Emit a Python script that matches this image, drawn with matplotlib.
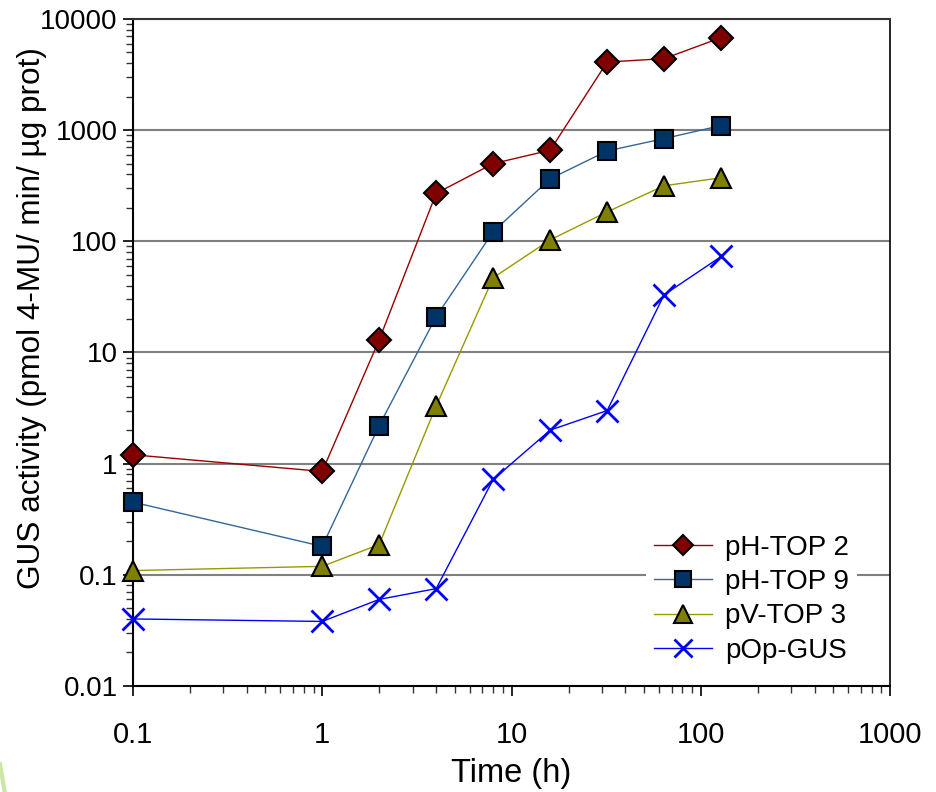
import matplotlib
matplotlib.use("Agg")
import matplotlib.pyplot as plt
from matplotlib.lines import Line2D

plt.rcParams['font.family'] = ['Liberation Sans', 'DejaVu Sans']

time_h = [0.1, 1, 2, 4, 8, 16, 32, 64, 128]
ph_top2 = [1.2, 0.85, 13, 270, 500, 660, 4100, 4400, 6800]
ph_top9 = [0.45, 0.18, 2.2, 21, 122, 365, 650, 840, 1100]
pv_top3 = [0.109, 0.119, 0.187, 3.3, 47, 103, 184, 316, 373]
pop_gus = [0.040, 0.038, 0.060, 0.075, 0.72, 2.0, 3.0, 33, 73]

series_names = ["pH-TOP 2", "pH-TOP 9", "pV-TOP 3", "pOp-GUS"]
x_ticks = [0.1, 1, 10, 100, 1000]
x_tick_labels = ["0.1", "1", "10", "100", "1000"]
y_ticks = [0.01, 0.1, 1, 10, 100, 1000, 10000]
y_tick_labels = ["0.01", "0.1", "1", "10", "100", "1000", "10000"]

fig = plt.figure(figsize=(9.36, 7.92), dpi=100)
ax = fig.add_axes([0.142, 0.134, 0.809, 0.842])
ax.set_xscale('log')
ax.set_yscale('log')
ax.set_xlim(0.1, 1000)
ax.set_ylim(0.01, 10000)

for yv in y_ticks[1:-1]:
    ax.axhline(yv, color='#808080', lw=1.5, zorder=1)

ax.plot(time_h, ph_top2, color='#990000', lw=1.0, marker='D', markersize=12,
        markerfacecolor='#800000', markeredgecolor='black', markeredgewidth=1.5,
        label=series_names[0], zorder=3, clip_on=False)
ax.plot(time_h, ph_top9, color='#336699', lw=1.0, marker='s', markersize=13,
        markerfacecolor='#003366', markeredgecolor='black', markeredgewidth=1.5,
        label=series_names[1], zorder=3, clip_on=False)
ax.plot(time_h, pv_top3, color='#999900', lw=1.0, marker='^', markersize=15,
        markerfacecolor='#808000', markeredgecolor='black', markeredgewidth=1.5,
        label=series_names[2], zorder=3, clip_on=False)
ax.plot(time_h, pop_gus, color='#0000FF', lw=1.0, marker='x', markersize=16,
        markeredgecolor='#0000FF', markeredgewidth=2.0,
        label=series_names[3], zorder=3, clip_on=False)

ax.set_xticks(x_ticks)
ax.set_xticklabels(x_tick_labels, fontsize=21)
ax.set_yticks(y_ticks)
ax.set_yticklabels(y_tick_labels, fontsize=20)
ax.tick_params(axis='both', which='major', direction='out', length=7, width=1.2, color='black')
ax.tick_params(axis='both', which='minor', direction='out', length=5, width=1.0, color='#333333')
ax.tick_params(axis='x', which='major', pad=18)
ax.tick_params(axis='y', which='major', pad=4)
ax.tick_params(axis='y', which='minor', labelleft=False)
ax.tick_params(axis='x', which='minor', labelbottom=False)

ax.set_xlabel("Time (h)", fontsize=23.5)
ax.xaxis.set_label_coords(0.5, -0.108)
ax.set_ylabel("GUS activity (pmol 4-MU/ min/ µg prot)", fontsize=22.7)
ax.yaxis.set_label_coords(-0.114, 0.552)

ax.spines['left'].set_linewidth(1.5)
ax.spines['bottom'].set_linewidth(1.5)
ax.spines['top'].set_linewidth(1.5)
ax.spines['top'].set_color('#333333')
ax.spines['right'].set_linewidth(1.2)

leg = ax.legend(loc='lower right', bbox_to_anchor=(0.975, 0.0), fontsize=20,
                frameon=True, framealpha=1.0, facecolor='white', edgecolor='none',
                handlelength=2.1, handletextpad=0.45, labelspacing=0.3,
                borderpad=0.3, markerscale=0.85)
leg.get_frame().set_linewidth(0)

# faint decorative green stroke at bottom-left corner
fig.add_artist(Line2D([0.0, 0.005], [0.035, 0.0], transform=fig.transFigure,
                      color='#a8d86a', lw=3, alpha=0.6))

fig.savefig("out.png", dpi=100)
